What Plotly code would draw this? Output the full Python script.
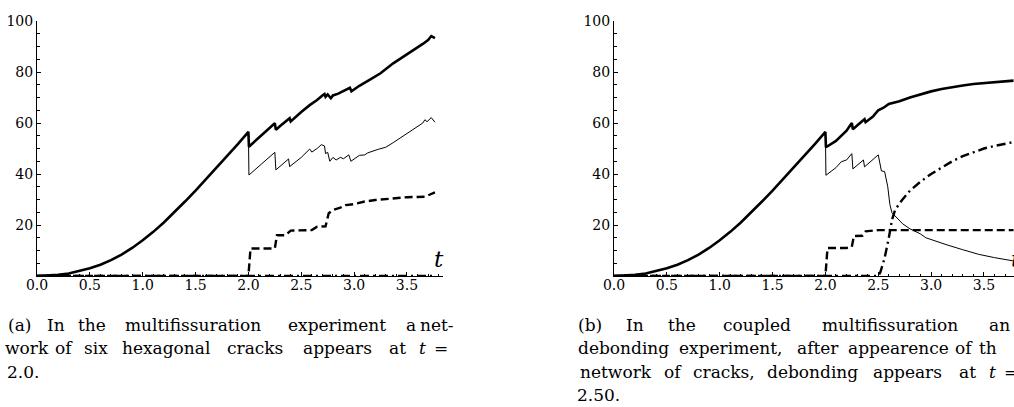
import plotly.graph_objects as go

# ---------------- data ----------------
# common loading phase (both experiments, before the cracks appear)
T_LOAD = [0.0, 0.1, 0.2, 0.3, 0.4, 0.5, 0.6, 0.7, 0.8, 0.9, 1.0, 1.1, 1.2, 1.3, 1.4,
          1.5, 1.6, 1.7, 1.8, 1.9, 2.0]
V_LOAD = [0.0, 0.1, 0.45, 1.0, 1.9, 3.0, 4.4, 6.2, 8.4, 11.0, 14.0, 17.3, 21.0, 25.0,
          29.2, 33.5, 38.0, 42.5, 47.0, 51.7, 56.5]

# (a) multifissuration
A_THICK_T = [2.005, 2.25, 2.26, 2.3, 2.39, 2.40, 2.45, 2.5, 2.58, 2.65, 2.7, 2.72, 2.73,
             2.75, 2.78, 2.8, 2.85, 2.9, 2.96, 2.975, 3.05, 3.15, 3.25, 3.37, 3.45,
             3.55, 3.65, 3.7, 3.73, 3.765]
A_THICK_V = [50.7, 59.9, 57.3, 58.8, 61.9, 60.6, 62.5, 64.3, 67.0, 69.0, 70.8, 71.4, 70.3,
             71.2, 69.7, 70.8, 71.5, 72.5, 73.8, 72.4, 74.6, 77.0, 79.5, 83.4, 85.5,
             88.3, 91.0, 92.5, 94.1, 93.3]
A_THIN_T = [2.005, 2.25, 2.26, 2.38, 2.39, 2.5, 2.58, 2.6, 2.65, 2.69, 2.72, 2.73, 2.75,
            2.77, 2.8, 2.83, 2.87, 2.9, 2.95, 2.97, 3.02, 3.05, 3.1, 3.13, 3.23, 3.3,
            3.37, 3.45, 3.55, 3.65, 3.67, 3.69, 3.73, 3.765]
A_THIN_V = [39.6, 48.5, 41.6, 45.9, 42.9, 46.5, 49.8, 48.6, 50.0, 51.5, 51.0, 48.0, 48.5,
            45.0, 46.5, 45.5, 46.5, 46.0, 47.5, 45.0, 46.5, 47.3, 47.5, 48.3, 49.7, 50.5,
            52.3, 54.5, 57.0, 60.0, 61.3, 60.5, 62.1, 60.3]
A_DASH_T = [0.0, 2.0, 2.02, 2.25, 2.27, 2.35, 2.4, 2.6, 2.65, 2.73, 2.76, 2.8, 2.87,
            2.92, 3.0, 3.1, 3.2, 3.36, 3.5, 3.67, 3.72, 3.765]
A_DASH_V = [0.0, 0.0, 10.8, 10.8, 16.0, 16.0, 17.8, 18.0, 19.3, 19.5, 24.6, 25.9, 26.8,
            27.8, 28.2, 29.2, 29.8, 30.5, 30.9, 31.1, 32.0, 32.8]
A_DEB_T = [0.0, 3.765]
A_DEB_V = [0.0, 0.0]

# (b) coupled multifissuration and debonding
B_THICK_T = [2.005, 2.1, 2.15, 2.2, 2.25, 2.26, 2.3, 2.37, 2.38, 2.45, 2.5, 2.55, 2.6,
             2.65, 2.7, 2.8, 2.9, 3.0, 3.1, 3.2, 3.3, 3.4, 3.5, 3.6, 3.7, 3.78]
B_THICK_V = [50.5, 53.0, 55.0, 57.0, 60.0, 57.5, 59.0, 61.5, 60.3, 62.5, 65.0, 66.0, 67.5,
             68.0, 68.5, 70.0, 71.3, 72.4, 73.3, 74.1, 74.7, 75.3, 75.7, 76.1, 76.4, 76.6]
B_THIN_T = [2.005, 2.1, 2.15, 2.2, 2.25, 2.26, 2.36, 2.37, 2.5, 2.53, 2.56, 2.59, 2.61,
            2.63, 2.68, 2.73, 2.8, 2.9, 2.95, 3.05, 3.15, 3.3, 3.45, 3.6, 3.78]
B_THIN_V = [39.5, 42.5, 44.8, 45.5, 48.0, 42.0, 45.5, 42.8, 47.5, 41.2, 41.0, 35.0, 28.0,
            24.8, 22.5, 20.5, 18.5, 16.5, 15.0, 13.5, 12.2, 10.3, 8.5, 7.2, 5.9]
B_DASH_T = [0.0, 2.0, 2.02, 2.2, 2.25, 2.27, 2.35, 2.38, 2.5, 3.78]
B_DASH_V = [0.0, 0.0, 11.0, 11.0, 11.5, 15.7, 15.8, 17.5, 18.0, 18.0]
B_DEB_T = [0.0, 2.5, 2.52, 2.56, 2.6, 2.63, 2.66, 2.72, 2.8, 2.9, 3.0, 3.1, 3.2, 3.3,
           3.4, 3.5, 3.6, 3.7, 3.78]
B_DEB_V = [0.0, 0.0, 1.5, 7.0, 15.0, 22.0, 26.0, 29.5, 33.5, 37.0, 40.0, 42.5, 45.0,
           47.0, 48.5, 50.0, 51.0, 52.0, 52.5]

Y_TICKS = [20, 40, 60, 80, 100]

# caption words: (text, x in px, anchor)
CAPTION_A = [
    [("(a)", 19.5, "center"), ("In", 56, "center"), ("the", 91.5, "center"),
     ("multifissuration", 192.5, "center"), ("experiment", 337, "center"),
     ("a", 410.5, "center"), ("net-", 436.5, "center")],
    [("work", 26.5, "center"), ("of", 64, "center"), ("six", 95.5, "center"),
     ("hexagonal", 165.5, "center"), ("cracks", 255, "center"), ("appears", 337, "center"),
     ("at", 397.5, "center"), ("<i>t</i>", 422.5, "center"), ("=", 440.5, "center")],
    [("2.0.", 6, "left")],
]
CAPTION_B = [
    [("(b)", 589.5, "center"), ("In", 635, "center"), ("the", 682, "center"),
     ("coupled", 756.5, "center"), ("multifissuration", 890, "center"), ("an", 988, "left")],
    [("debonding", 623, "center"), ("experiment,", 730.5, "center"), ("after", 817.5, "center"),
     ("appearence", 898.5, "center"), ("of", 964, "center"), ("th", 978, "left")],
    [("network", 615.5, "center"), ("of", 672.5, "center"), ("cracks,", 723.5, "center"),
     ("debonding", 812.5, "center"), ("appears", 907.5, "center"), ("at", 967, "center"),
     ("<i>t</i>", 992.5, "center"), ("=", 1003, "left")],
    [("2.50.", 576, "left")],
]

# ---------------- figure ----------------
W, H = 1014, 407
SERIF = "DejaVu Serif"

fig = go.Figure()


def add_series(t, v, xa, ya, width, dash):
    fig.add_trace(go.Scatter(x=t, y=v, mode="lines", xaxis=xa, yaxis=ya,
                             line=dict(color="black", width=width, dash=dash),
                             hoverinfo="skip", showlegend=False))


for xa, ya, deb_t, deb_v, dash_t, dash_v, thin_t, thin_v, thick_t, thick_v in [
    ("x", "y", A_DEB_T, A_DEB_V, A_DASH_T, A_DASH_V, A_THIN_T, A_THIN_V, A_THICK_T, A_THICK_V),
    ("x2", "y2", B_DEB_T, B_DEB_V, B_DASH_T, B_DASH_V, B_THIN_T, B_THIN_V, B_THICK_T, B_THICK_V),
]:
    add_series(deb_t, deb_v, xa, ya, 2.4, "9px,4px,2px,4px")
    add_series(dash_t, dash_v, xa, ya, 2.4, "8px,4px")
    add_series(T_LOAD + thin_t, V_LOAD + thin_v, xa, ya, 1.0, "solid")
    add_series(T_LOAD + thick_t, V_LOAD + thick_v, xa, ya, 2.6, "solid")

px_per_t = 105.7
y_dom = [(H - 276) / H, (H - 21) / H]

xcommon = dict(showgrid=False, zeroline=False, showline=True, linecolor="black",
               linewidth=1, ticks="inside", ticklen=4, tickcolor="black", tickwidth=1,
               tickmode="linear", tick0=0, dtick=0.5, tickformat=".1f",
               ticklabelstandoff=-4,
               tickfont=dict(family=SERIF, size=14, color="black"),
               minor=dict(ticks="inside", ticklen=2.5, tickcolor="black", tickwidth=1,
                          tickmode="linear", tick0=0, dtick=0.1),
               fixedrange=True, automargin=False)
ycommon = dict(showgrid=False, zeroline=False, showline=True, linecolor="black",
               linewidth=1, ticks="inside", ticklen=4, tickcolor="black", tickwidth=1,
               tickmode="array", tickvals=Y_TICKS, range=[0, 100], domain=y_dom,
               tickfont=dict(family=SERIF, size=14, color="black"),
               minor=dict(ticks="inside", ticklen=2.5, tickcolor="black", tickwidth=1,
                          tickmode="linear", tick0=0, dtick=5),
               fixedrange=True, automargin=False)

fig.update_layout(
    width=W, height=H, margin=dict(l=0, r=0, t=0, b=0),
    paper_bgcolor="white", plot_bgcolor="white",
    font=dict(family=SERIF, color="black"),
    xaxis=dict(xcommon, domain=[37 / W, 443 / W], range=[0, (443 - 37) / px_per_t],
               anchor="y"),
    yaxis=dict(ycommon, anchor="x"),
    xaxis2=dict(xcommon, domain=[614 / W, 1.0], range=[0, (W - 614) / px_per_t],
                anchor="y2"),
    yaxis2=dict(ycommon, anchor="x2"),
)

ann = []
for xpx in (439, 1016):
    ann.append(dict(x=xpx / W, y=1 - 259 / H, xref="paper", yref="paper",
                    text="<i>t</i>", showarrow=False, xanchor="center", yanchor="middle",
                    font=dict(family=SERIF, size=23, color="black")))

line_y = [325, 348, 372, 395]
for cap in (CAPTION_A, CAPTION_B):
    for i, words in enumerate(cap):
        for word, xpx, anchor in words:
            ann.append(dict(x=xpx / W, y=1 - line_y[i] / H, xref="paper", yref="paper",
                            text=word, showarrow=False, xanchor=anchor, yanchor="middle",
                            xshift=-1 if anchor == "left" else 0,
                            font=dict(family=SERIF, size=17, color="black")))
fig.update_layout(annotations=ann)

fig.write_html("out.html", config=dict(displayModeBar=False, responsive=False),
               post_script="document.body.style.margin='0';document.body.style.overflow='hidden';")
